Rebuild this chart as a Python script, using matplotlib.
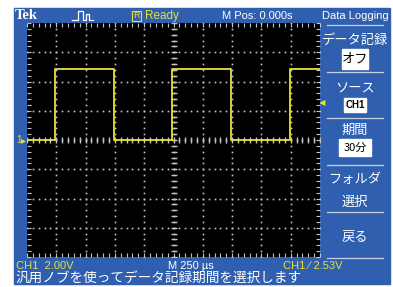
## Oscilloscope screen capture (Tek, Data Logging menu)
import numpy as np
import matplotlib
matplotlib.use('Agg')
import matplotlib.pyplot as plt
from matplotlib.patches import Rectangle

## -------------------------------------------------------------------------- ##
# waveform: CH1, 2.00 V/div, 250 us/div, trigger at 0
t_us = [-1250, -1010, -1010, -510, -510, -10, -10, 490, 490, 990, 990, 1250]
v_ch1 = [0.0, 0.0, 4.85, 4.85, 0.0, 0.0, 4.85, 4.85, 0.0, 0.0, 4.85, 4.85]
trig_level = 2.53
volts_div = 2.0
time_div = 250

menu_title = 'データ記録'
menu_items = ['ソース', '期間']
menu_values = ['オフ', 'CH1', '30分']
help_text = '汎用ノブを使ってデータ記録期間を選択します'
## -------------------------------------------------------------------------- ##
W, H = 393, 287
blue = '#2f5fae'
yellow = '#e6e03c'
grid_c = '#c4c4c4'
jp = ['Noto Sans CJK JP', 'DejaVu Sans']
lat = ['Liberation Sans Narrow', 'Liberation Sans', 'DejaVu Sans']

fig = plt.figure(figsize=(W / 100, H / 100), dpi=100)
fig.patch.set_facecolor('white')

# overlay in pixel coords for the instrument chrome
ov = fig.add_axes([0, 0, 1, 1])
ov.set_xlim(0, W)
ov.set_ylim(H, 0)
ov.axis('off')
ov.add_patch(Rectangle((14, 8), 376, 276, color=blue, zorder=0))

# screen area
sx0, sy0, sx1, sy1 = 27, 23, 320, 257
ax = fig.add_axes([sx0 / W, 1 - sy1 / H, (sx1 - sx0) / W, (sy1 - sy0) / H])
ax.set_facecolor('black')
ax.set_xlim(-5 * time_div, 5 * time_div)
ax.set_ylim(-4 * volts_div, 4 * volts_div)
for s in ax.spines.values():
    s.set_visible(False)
ax.set_xticks(np.arange(-5, 6) * time_div)
ax.set_yticks(np.arange(-4, 5) * volts_div)
ax.set_xticks(np.arange(-25, 26) * time_div / 5, minor=True)
ax.set_yticks(np.arange(-20, 21) * volts_div / 5, minor=True)
ax.tick_params(which='both', direction='in', colors=grid_c, length=3, width=0.8,
               top=True, right=True, labelbottom=False, labelleft=False)

# dotted grid
gx = np.arange(-4, 5) * time_div
gy = np.arange(-3, 4) * volts_div
fy = np.arange(-20, 21) * volts_div / 5
fx = np.arange(-25, 26) * time_div / 5
for x in gx:
    ax.plot(np.full_like(fy, x), fy, ls='none', marker='s', ms=1.2, color=grid_c, mew=0)
for y in gy:
    ax.plot(fx, np.full_like(fx, y), ls='none', marker='s', ms=1.2, color=grid_c, mew=0)
# centre axes with small ticks
ax.plot(fx, np.zeros_like(fx), ls='none', marker='|', ms=4, mew=1.0, color=grid_c)
ax.plot(np.zeros_like(fy), fy, ls='none', marker='_', ms=4, mew=1.0, color=grid_c)

ax.plot(t_us, v_ch1, color=yellow, lw=1.3, zorder=5)

# trigger marker top, level arrow right, ground marker left
ov.plot([173.5], [27], marker='v', ms=5, color='white', mew=0)
ov.text(322, sy0 + (4 - trig_level / volts_div) * (sy1 - sy0) / 8, '◀',
        color=yellow, fontsize=6, va='center', ha='center', family=['DejaVu Sans'])
ov.text(16, 140, '1', color=yellow, fontsize=7, va='center', family=lat)
ov.text(21, 140, '▸', color=yellow, fontsize=7, va='center', family=['DejaVu Sans'])

# top bar
ov.text(14.5, 15.5, 'Tek', color='white', fontsize=10.5, fontweight='bold',
        family=['Liberation Serif'], va='center')
ov.plot([72, 78, 78, 83, 83, 86, 86, 89, 89, 93], [20, 20, 11, 11, 20, 20, 14, 14, 20, 20],
        color='white', lw=0.9)
ov.add_patch(Rectangle((132, 11), 9, 10, fill=False, ec=yellow, lw=0.8))
ov.text(136.5, 16, 'R', color=yellow, fontsize=6.5, ha='center', va='center', family=lat)
ov.text(145, 16, 'Ready', color=yellow, fontsize=8.5, va='center', family=lat)
ov.text(257, 16, 'M Pos: 0.000s', color='white', fontsize=8, va='center', ha='center', family=lat)
ov.text(355, 16, 'Data Logging', color='white', fontsize=8, va='center', ha='center', family=lat)

# side menu
mx = 355
for y in [24.5, 72, 118, 165, 212, 258]:
    ov.plot([327, 383], [y, y], color='#c8d0e0', lw=0.9)
ov.text(mx, 40, menu_title, color='white', fontsize=9.5, ha='center', va='center', family=jp)
ov.text(mx, 89, menu_items[0], color='white', fontsize=9.5, ha='center', va='center', family=jp)
ov.text(mx, 130, menu_items[1], color='white', fontsize=9.5, ha='center', va='center', family=jp)
ov.text(mx, 179, 'フォルダ', color='white', fontsize=9.5, ha='center', va='center', family=jp)
ov.text(mx, 202, '選択', color='white', fontsize=9.5, ha='center', va='center', family=jp)
ov.text(mx, 237, '戻る', color='white', fontsize=9.5, ha='center', va='center', family=jp)
ov.add_patch(Rectangle((342, 49), 26, 20, color='white'))
ov.text(mx, 59, menu_values[0], color='black', fontsize=9.5, ha='center', va='center', family=jp)
ov.add_patch(Rectangle((344, 98), 22, 14, color='white'))
ov.text(mx, 105, menu_values[1], color='black', fontsize=7, fontweight='bold',
        ha='center', va='center', family=lat)
ov.add_patch(Rectangle((339, 139), 32, 17, color='white'))
ov.text(mx, 147.5, menu_values[2], color='black', fontsize=8, ha='center', va='center', family=jp)

# bottom readouts
ov.text(16, 266, 'CH1  2.00V', color=yellow, fontsize=8, va='center', family=lat)
ov.text(191, 266, 'M 250 µs', color='white', fontsize=8, va='center', ha='center', family=lat)
ov.text(283, 266, 'CH1 ⁄ 2.53V', color=yellow, fontsize=8, va='center', family=lat)
ov.text(15, 278.5, help_text, color='white', fontsize=9.8, va='center', family=jp)

fig.savefig('out.png', dpi=100)
